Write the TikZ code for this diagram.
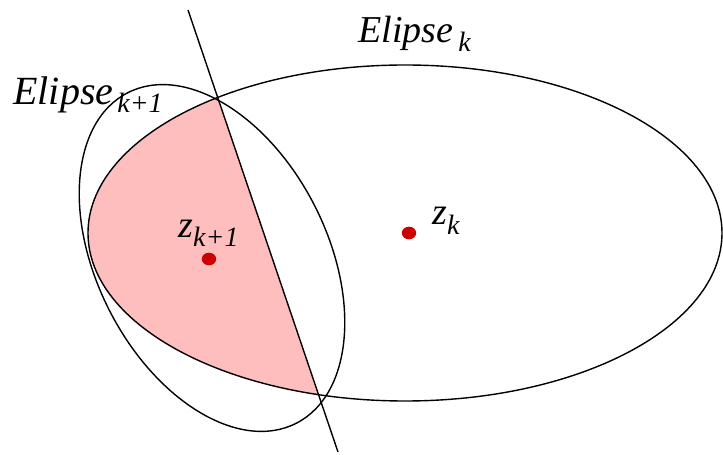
\documentclass[tikz,border=0pt]{standalone}
\usepackage{fontspec}
\setmainfont{Liberation Serif}[ItalicFont=Liberation Serif Italic]
\usetikzlibrary{calc,shapes.geometric}
\definecolor{cutpink}{RGB}{255,190,190}
\definecolor{centrered}{RGB}{204,0,0}
\newcommand{\lowsub}[2][4.5pt]{\raisebox{-#1}{\fontsize{14}{16}\selectfont #2}}

\begin{document}
\begin{tikzpicture}[x=0.5pt,y=0.5pt,
    curve/.style={line width=0.7pt},
    centredot/.style={ellipse,fill=centrered,inner sep=0pt,minimum width=7.2pt,minimum height=6.3pt},
    lab/.style={inner sep=0pt,anchor=base west,font=\fontsize{19}{22}\selectfont\itshape}]
  \useasboundingbox (0,0) rectangle (723,455);
  \coordinate (lineTop) at (188,445);
  \coordinate (lineBot) at (338,3);
  % shaded part of the new ellipse
  \begin{scope}
    \clip (405,222) ellipse [x radius=317,y radius=168];
    \clip[rotate around={117:(212,197)}] (212,197) ellipse [x radius=185.5,y radius=115.2];
    \clip (lineTop) -- (lineBot) -- (0,0) -- (0,455) -- cycle;
    \fill[cutpink] (0,0) rectangle (723,455);
  \end{scope}
  \draw[curve] (405,222) ellipse [x radius=317,y radius=168];
  \draw[curve,rotate around={117:(212,197)}] (212,197) ellipse [x radius=185.5,y radius=115.2];
  \draw[curve] (lineTop) -- (lineBot);
  \node[centredot] (zk) at (409,222) {};
  \node[centredot] (zknext) at (209,196) {};
  \node[lab] (elk) at (358,412) {Elipse\kern2.5pt\lowsub{k}};
  \node[lab,font=\fontsize{20}{22}\selectfont\itshape] (elknext) at (13,350) {Elipse\kern2pt\lowsub[4pt]{k+1}};
  \node[lab] (zklab) at (432,230) {z\lowsub[5pt]{k}};
  \node[lab] (zknextlab) at (178,217) {z\lowsub{k+1}};
\end{tikzpicture}
\end{document}
